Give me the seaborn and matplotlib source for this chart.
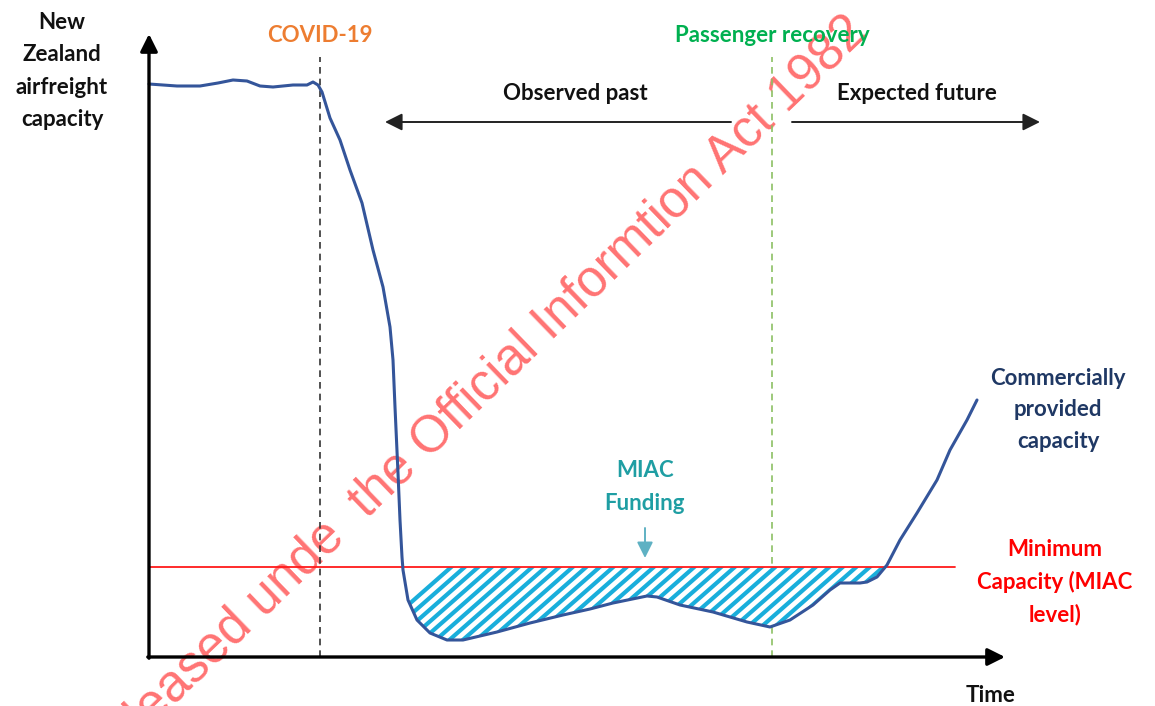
import numpy as np
import pandas as pd
import matplotlib
matplotlib.use("Agg")
import matplotlib.pyplot as plt
from matplotlib.patches import PathPatch
from matplotlib.collections import LineCollection
import seaborn as sns

# Commercially provided airfreight capacity over time (illustrative units)
time = [0, 14, 28, 51, 69, 84, 98, 111, 124, 144, 158, 164, 169, 173, 181, 191,
        201, 213, 224, 234, 241, 244, 246, 249, 251, 253, 254, 259, 268, 281,
        298, 314, 331, 348, 381, 414, 441, 464, 498, 508, 531, 564, 598, 621,
        641, 664, 681, 691, 711, 718, 728, 738, 751, 768, 788, 801, 818, 828]
capacity = [573, 572, 571, 571, 574, 577, 576, 571, 570, 572, 572, 575, 572, 565,
            539, 517, 487, 454, 407, 370, 330, 297, 250, 184, 137, 100, 87, 57,
            37, 24, 17, 17, 21, 25, 34, 42, 48, 54, 61, 60, 52, 45, 35, 30, 37,
            52, 67, 74, 74, 75, 80, 92, 117, 144, 177, 207, 237, 257]

miac_level = 90          # minimum capacity (MIAC level)
covid_time = 171         # COVID-19 onset
passenger_time = 623     # passenger recovery

sns.set_theme(style="white")
plt.rcParams["font.family"] = ["Lato", "DejaVu Sans"]

fig = plt.figure(figsize=(11.55, 7.06), dpi=100)
ax = fig.add_axes([0, 0, 1, 1])
ax.set_xlim(-149, 1006)
ax.set_ylim(-49, 657)
ax.axis("off")

df = pd.DataFrame({"time": time, "capacity": capacity})

# Shortfall below the MIAC level, hatched with diagonal stripes
t = np.array(time, dtype=float)
c = np.array(capacity, dtype=float)
fill = ax.fill_between(t, c, miac_level, where=c < miac_level, interpolate=True,
                       facecolor="white", edgecolor="none", zorder=2)
for path in fill.get_paths():
    clip = PathPatch(path, facecolor="none", edgecolor="none", transform=ax.transData)
    ax.add_patch(clip)
    slope = 0.88
    segs = []
    for k in np.arange(200, 800, 13.5):
        segs.append([(k, 0), (k + 120 / slope, 120)])
    lc = LineCollection(segs, colors="#19aedb", linewidths=3.0, zorder=3)
    ax.add_collection(lc)
    lc.set_clip_path(clip)

# MIAC level line
ax.plot([0, 806], [miac_level, miac_level], color="#ff1a1a", lw=1.3, zorder=4)

# Event markers
ax.plot([covid_time, covid_time], [0, 600], color="#333333", lw=1.2,
        ls=(0, (4, 3)), zorder=1)
ax.plot([passenger_time, passenger_time], [0, 600], color="#8cc063", lw=1.2,
        ls=(0, (4, 3)), zorder=1)

# Capacity curve
sns.lineplot(data=df, x="time", y="capacity", ax=ax, color="#34559a", lw=2.2,
             sort=False, estimator=None, zorder=5)
ax.set_xlabel("")
ax.set_ylabel("")

# Axes with arrowheads
arrow_kw = dict(arrowstyle="-|>", color="black", lw=2.4, mutation_scale=26,
                shrinkA=0, shrinkB=0)
ax.annotate("", xy=(0, 623), xytext=(0, -1.2), arrowprops=arrow_kw, zorder=6)
ax.annotate("", xy=(856, 0), xytext=(-1.2, 0), arrowprops=arrow_kw, zorder=6)

# Observed past / expected future arrows
thin_kw = dict(arrowstyle="-|>", color="#222222", lw=1.4, mutation_scale=26,
               shrinkA=0, shrinkB=0)
ax.annotate("", xy=(236, 535), xytext=(582, 535), arrowprops=thin_kw)
ax.annotate("", xy=(891, 535), xytext=(643, 535), arrowprops=thin_kw)

# MIAC funding pointer
ax.annotate("", xy=(496, 99), xytext=(496, 129),
            arrowprops=dict(arrowstyle="-|>", color="#5fb1c3", lw=1.4,
                            mutation_scale=24, shrinkA=0, shrinkB=0))

bold = dict(fontsize=16, fontweight="bold", ha="center", va="center")
ax.text(-87, 586, "New\nZealand\nairfreight\ncapacity", color="#111111",
        linespacing=1.65, **bold)
ax.text(covid_time, 622, "COVID-19", color="#ed7d31", **bold)
ax.text(passenger_time, 622, "Passenger recovery", color="#00b050", **bold)
ax.text(426, 563, "Observed past", color="#111111", **bold)
ax.text(768, 564, "Expected future", color="#111111", **bold)
ax.text(496, 170, "MIAC\nFunding", color="#1f9ea3", linespacing=1.65, **bold)
ax.text(909, 247, "Commercially\nprovided\ncapacity", color="#1f3864",
        linespacing=1.6, **bold)
ax.text(906, 75, "Minimum\nCapacity (MIAC\nlevel)", color="#ff0000",
        linespacing=1.6, **bold)
ax.text(842, -38, "Time", color="#111111", **bold)

# Release stamp
ax.text(-51, -122, "Released unde  the Official Informtion Act 1982",
        color="#ff7373", fontsize=37, family=["Liberation Sans", "DejaVu Sans"],
        rotation=44, rotation_mode="anchor", ha="left", va="baseline",
        zorder=0)

fig.savefig("out.png", dpi=100)
